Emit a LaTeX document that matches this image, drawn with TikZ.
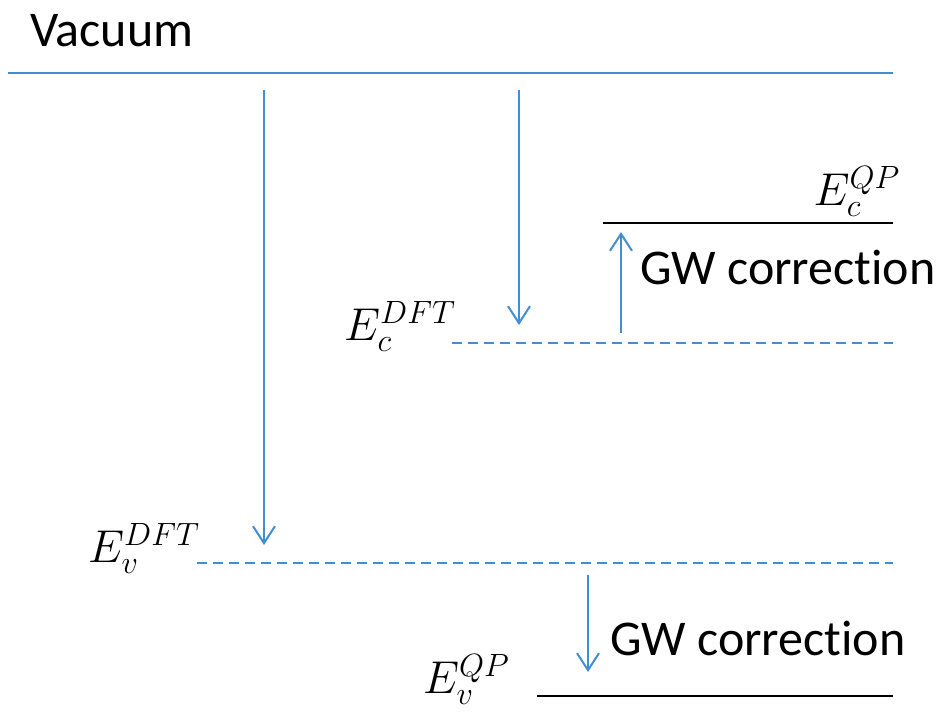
\RequirePackage{fix-cm}
\documentclass[tikz,border=0pt]{standalone}
\usepackage{fontspec}
\setmainfont{Carlito}[Ligatures={NoCommon}]
\usetikzlibrary{arrows.meta}
\definecolor{lineblue}{RGB}{65,143,210}
\tikzset{
  level/.style={line width=2pt},
  bluelevel/.style={level, lineblue},
  dashlevel/.style={level, lineblue, dash pattern=on 10pt off 6pt},
  qplevel/.style={line width=2.4pt, black},
  energyarrow/.style={line width=2pt, lineblue, -{Straight Barb[length=17pt,width=22pt,line width=2pt]}},
  txt/.style={inner sep=0pt, font=\fontsize{50}{60}\selectfont},
  mathlbl/.style={inner sep=0pt, font=\fontsize{46}{55}\selectfont},
}
\begin{document}
\begin{tikzpicture}[x=1pt,y=-1pt]
\useasboundingbox (0,0) rectangle (947,717);
% levels
\coordinate (vacL) at (8,73);
\coordinate (vacR) at (893,73);
\draw[bluelevel] (vacL) -- (vacR);
\coordinate (cqpL) at (603,223);
\coordinate (cqpR) at (893,223);
\draw[qplevel] (cqpL) -- (cqpR);
\coordinate (cdftL) at (452,343);
\coordinate (cdftR) at (893,343);
\draw[dashlevel] (cdftL) -- (cdftR);
\coordinate (vdftL) at (197,563);
\coordinate (vdftR) at (893,563);
\draw[dashlevel] (vdftL) -- (vdftR);
\coordinate (vqpL) at (537,696);
\coordinate (vqpR) at (893,696);
\draw[qplevel] (vqpL) -- (vqpR);
% labels
\node[txt, anchor=base west] (vac) at (30,47) {Vacuum};
\node[txt, anchor=base west] (gw1) at (640,284) {GW correction};
\node[txt, anchor=base west] (gw2) at (610,655) {GW correction};
\node[mathlbl, anchor=base east] (ecqp) at (900,205) {$E_c^{QP}$};
\node[mathlbl, anchor=base west] (ecdft) at (344,340) {$E_c^{DFT}$};
\node[mathlbl, anchor=base west] (evdft) at (88,562) {$E_v^{DFT}$};
\node[mathlbl, anchor=base west] (evqp) at (423,693) {$E_v^{QP}$};
% arrows
\coordinate (a1s) at (264,90);
\coordinate (a1e) at (264,545);
\draw[energyarrow] (a1s) -- (a1e);
\coordinate (a2s) at (519,90);
\coordinate (a2e) at (519,325);
\draw[energyarrow] (a2s) -- (a2e);
\coordinate (a3s) at (621,333);
\coordinate (a3e) at (621,232);
\draw[energyarrow] (a3s) -- (a3e);
\coordinate (a4s) at (588,575);
\coordinate (a4e) at (588,672);
\draw[energyarrow] (a4s) -- (a4e);
\end{tikzpicture}
\end{document}
